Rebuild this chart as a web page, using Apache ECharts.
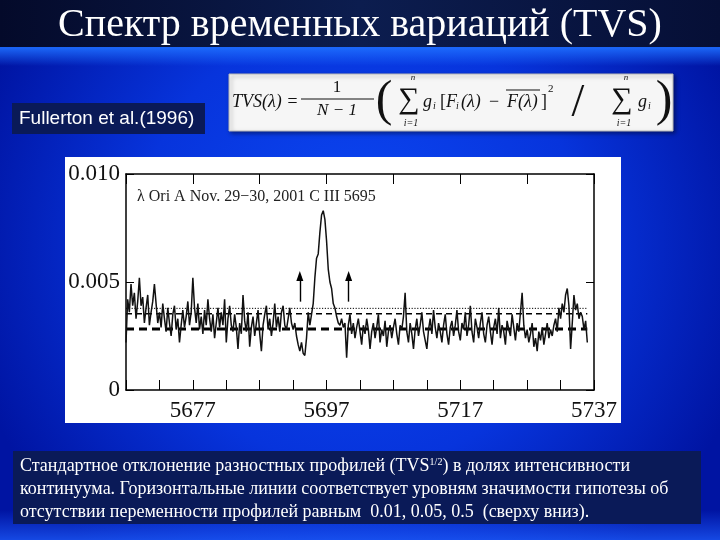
<!DOCTYPE html>
<html>
<head>
<meta charset="utf-8">
<script src="https://cdn.jsdelivr.net/npm/echarts@6/dist/echarts.min.js"></script>
<style>html,body{margin:0;padding:0;background:#0630d8;}#c{width:720px;height:540px;}</style>
</head>
<body>
<div id="c"></div>
<script>
// ---- data (TVS in units of 1e-4 of continuum) ----
const waveStart = 5667;
const waveStep = 0.25;
const tvs = [
 22,42,36,49,39,45,33,41,52,39,43,31,38,44,30,36,41,49,40,31,
 36,29,40,33,27,38,31,25,35,39,28,33,22,30,37,29,34,41,30,36,
 52,38,31,40,28,34,26,37,30,42,33,27,35,24,31,38,29,36,30,42,
 22,33,39,30,27,35,29,19,31,26,44,32,27,36,20,29,34,25,31,37,
 26,18,30,35,39,28,33,25,31,40,29,34,27,36,39,30,28,33,38,31,
 28,31,25,21,18,22,17,16,24,36,30,35,40,52,61,63,73,81,83,79,
 69,56,50,47,40,38,34,31,30,33,29,31,15,30,35,26,31,24,29,33,
 27,21,30,26,33,28,19,27,31,24,29,35,22,28,25,32,20,27,30,24,
 29,33,26,21,30,28,34,45,27,22,31,26,19,28,33,25,30,36,27,23,
 19,28,33,26,37,29,24,31,27,22,30,35,26,21,29,32,25,30,37,27,
 23,31,28,36,25,30,39,27,22,33,29,24,31,36,26,22,30,34,27,21,
 29,33,26,38,24,30,27,21,32,28,25,35,29,23,31,27,36,45,30,24,
 28,22,26,31,20,24,18,27,23,29,21,26,31,24,28,25,30,33,27,38,
 33,40,36,44,47,39,19,31,44,37,40,33,36,34,28,32,22
];
const levels = [37.8, 35.3, 28.2];          // significance 0.01, 0.05, 0.5
const levelRange = [5667, 5736];
const arrowWaves = [5693.0, 5700.3];
const arrowBase = 40.9, arrowTip = 52.8;
const xTickLabels = [5677, 5697, 5717, 5737];
const yTickLabels = ['0', '0.005', '0.010'];
const panelLabel = 'λ Ori A Nov. 29−30, 2001 C III 5695';
const titleText = 'Спектр временных вариаций (TVS)';
const refText = 'Fullerton et al.(1996)';
const captionLines = [
  'Стандартное отклонение разностных профилей (TVS{sup|1/2}) в долях интенсивности',
  'континуума. Горизонтальные линии соответствует уровням значимости гипотезы об',
  'отсутствии переменности профилей равным  0.01, 0.05, 0.5  (сверху вниз).'
];

const spectrum = tvs.map((v, i) => [waveStart + i * waveStep, v]);
const levelStyles = [
  {type: [1.2, 1.6], width: 1},
  {type: [6, 4], width: 1.4},
  {type: [8, 5], width: 3}
];

const serif = "'Liberation Serif','Times New Roman',serif";
const chart = echarts.init(document.getElementById('c'));

function ftxt(x, y, text, font, align) {
  return {type:'text', z:10, x:x, y:y, style:{text:text, fill:'#111', font:font, align:align || 'left', verticalAlign:'middle'}};
}
const fI = 'italic 18px ' + serif;
const fS = 'italic 10px ' + serif;

const graphics = [
  // background
  {type:'rect', z:-20, shape:{x:0,y:0,width:720,height:540}, style:{fill:{type:'radial',x:0.5,y:0.45,r:0.75,colorStops:[{offset:0,color:'#0c48f4'},{offset:0.55,color:'#0734dc'},{offset:1,color:'#0014a2'}]}}},
  {type:'rect', z:-19, shape:{x:0,y:510,width:720,height:30}, style:{fill:{type:'linear',x:0,y:0,x2:0,y2:1,colorStops:[{offset:0,color:'rgba(30,90,255,0)'},{offset:1,color:'rgba(30,95,255,0.7)'}]}}},
  {type:'rect', z:-18, shape:{x:0,y:40,width:720,height:26}, style:{fill:{type:'linear',x:0,y:0,x2:0,y2:1,colorStops:[{offset:0,color:'rgba(30,110,255,0)'},{offset:0.3,color:'rgba(30,110,255,0.9)'},{offset:1,color:'rgba(30,110,255,0)'}]}}},
  {type:'rect', z:-17, shape:{x:0,y:0,width:720,height:47}, style:{fill:{type:'linear',x:0,y:0,x2:1,y2:0,colorStops:[{offset:0,color:'#040a2a'},{offset:0.5,color:'#0c1d4f'},{offset:1,color:'#060f36'}]}}},
  // title
  {type:'text', z:10, x:360, y:25, style:{text:titleText, fill:'#ffffff', font:'40px '+serif, align:'center', verticalAlign:'middle'}},
  // reference box
  {type:'rect', z:-5, shape:{x:12,y:103,width:193,height:31}, style:{fill:'#0a1a58'}},
  {type:'text', z:10, x:19, y:119, style:{text:refText, fill:'#ffffff', font:"19px 'Liberation Sans Narrow','Liberation Sans',sans-serif", verticalAlign:'middle'}},
  // formula box
  {type:'rect', z:-5, shape:{x:229,y:74,width:444,height:57}, style:{fill:'#f6f6f6', stroke:'#b8b8b8', lineWidth:1, shadowColor:'rgba(0,0,0,0.4)', shadowBlur:4, shadowOffsetX:2, shadowOffsetY:2}},
  ftxt(232, 102, 'TVS(λ) =', fI),
  ftxt(337, 88, '1', '17px ' + serif, 'center'),
  {type:'line', z:10, shape:{x1:301,y1:99,x2:374,y2:99}, style:{stroke:'#111', lineWidth:1}},
  ftxt(337, 111, 'N − 1', 'italic 17px ' + serif, 'center'),
  ftxt(384, 102, '(', '50px ' + serif, 'center'),
  ftxt(409, 100, '∑', '30px ' + serif, 'center'),
  ftxt(413, 78, 'n', 'italic 9px ' + serif, 'center'),
  ftxt(411, 123, 'i=1', fS, 'center'),
  ftxt(423, 102, 'g', fI),
  ftxt(433, 106, 'i', fS),
  ftxt(440, 102, '[', '18px ' + serif),
  ftxt(446, 102, 'F', fI),
  ftxt(456, 106, 'i', fS),
  ftxt(461, 102, '(λ)', fI),
  ftxt(494, 102, '−', '18px ' + serif, 'center'),
  ftxt(507, 102, 'F(λ)', fI),
  {type:'line', z:10, shape:{x1:506,y1:90,x2:540,y2:90}, style:{stroke:'#111', lineWidth:1}},
  ftxt(541, 102, ']', '18px ' + serif),
  ftxt(548, 89, '2', '11px ' + serif),
  ftxt(578, 104, '/', '46px ' + serif, 'center'),
  ftxt(622, 100, '∑', '30px ' + serif, 'center'),
  ftxt(626, 78, 'n', 'italic 9px ' + serif, 'center'),
  ftxt(624, 123, 'i=1', fS, 'center'),
  ftxt(638, 102, 'g', fI),
  ftxt(648, 106, 'i', fS),
  ftxt(664, 102, ')', '50px ' + serif, 'center'),
  // chart white panel
  {type:'rect', z:-5, shape:{x:65,y:157,width:556,height:266}, style:{fill:'#ffffff'}},
  {type:'text', z:10, x:137, y:197, style:{text:panelLabel, fill:'#222', font:'16px '+serif, verticalAlign:'middle'}},
  // caption box
  {type:'rect', z:-5, shape:{x:13,y:451,width:688,height:73}, style:{fill:'#0a1a58'}}
];
captionLines.forEach((t, i) => {
  graphics.push({type:'text', z:10, x:20, y:466 + i * 23, style:{text:t, fill:'#ffffff', font:'18px '+serif, verticalAlign:'middle',
    rich:{sup:{font:'10px '+serif, fill:'#ffffff', padding:[0,0,8,0]}}}});
});

const axisLineStyle = {color:'#000', width:1.5};
const option = {
  animation:false,
  grid:{left:126, right:126, top:174, bottom:150, containLabel:false},
  xAxis:[
    {type:'value', position:'bottom', min:5667, max:5737, interval:5,
     axisLine:{show:true, onZero:false, lineStyle:axisLineStyle},
     axisTick:{show:true, inside:true, length:10, lineStyle:{color:'#000', width:1}},
     splitLine:{show:false},
     axisLabel:{show:true, margin:9, showMinLabel:true, showMaxLabel:true, color:'#111', fontFamily:'Liberation Serif', fontSize:23,
       formatter:v => xTickLabels.indexOf(Math.round(v)) >= 0 ? String(Math.round(v)) : ''}},
    {type:'value', position:'top', min:5667, max:5737, interval:10,
     axisLine:{show:true, onZero:false, lineStyle:axisLineStyle},
     axisTick:{show:true, inside:true, length:10, lineStyle:{color:'#000', width:1}},
     splitLine:{show:false}, axisLabel:{show:false}}
  ],
  yAxis:[
    {type:'value', position:'left', min:0, max:100, interval:50,
     axisLine:{show:true, onZero:false, lineStyle:axisLineStyle},
     axisTick:{show:true, inside:true, length:8, lineStyle:{color:'#000', width:1}},
     splitLine:{show:false},
     axisLabel:{show:true, margin:6, color:'#111', fontFamily:'Liberation Serif', fontSize:23,
       formatter:v => yTickLabels[Math.round(v / 50)]}},
    {type:'value', position:'right', min:0, max:100, interval:50,
     axisLine:{show:true, onZero:false, lineStyle:axisLineStyle},
     axisTick:{show:true, inside:true, length:8, lineStyle:{color:'#000', width:1}},
     splitLine:{show:false}, axisLabel:{show:false}}
  ],
  series:[
    ...levels.map((lv, i) => ({
      type:'line', xAxisIndex:0, yAxisIndex:0, symbol:'none', silent:true, z:3,
      data:[[levelRange[0], lv], [levelRange[1], lv]],
      lineStyle:{color:'#000', width:levelStyles[i].width, type:levelStyles[i].type}
    })),
    {type:'line', xAxisIndex:0, yAxisIndex:0, symbol:'none', silent:true, z:4,
     data:spectrum,
     lineStyle:{color:'#111', width:1.5},
     markLine:{silent:true, symbol:['none','triangle'], symbolSize:[7,10], label:{show:false},
       lineStyle:{color:'#000', width:1.4, type:'solid'},
       data: arrowWaves.map(w => [{coord:[w, arrowBase]}, {coord:[w, arrowTip]}])}
    }
  ],
  graphic:{elements:graphics}
};
chart.setOption(option);
</script>
</body>
</html>
